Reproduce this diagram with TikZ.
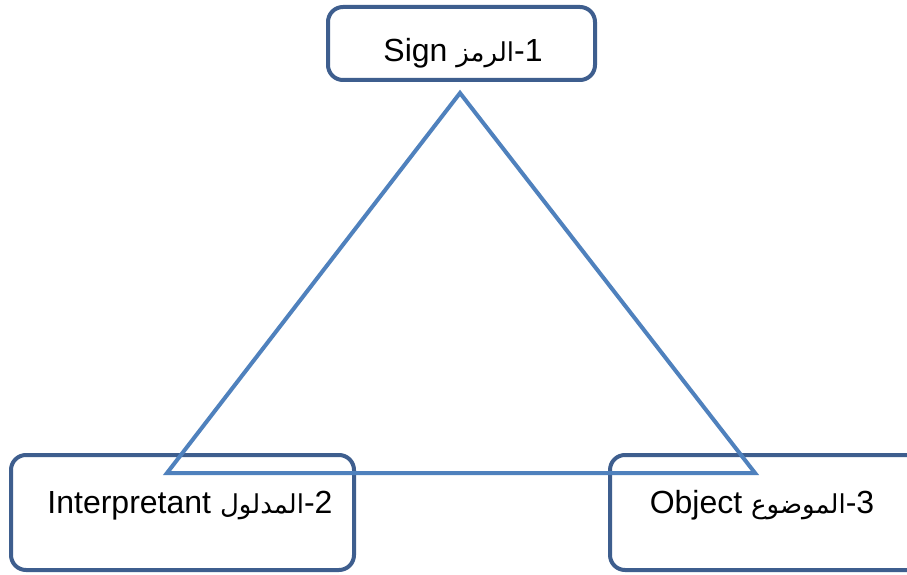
\documentclass[tikz,border=0pt]{standalone}
\usepackage{fontspec}
\setmainfont{Liberation Sans}
\newfontfamily\arabicfont[Script=Arabic]{DejaVu Sans}
\TeXXeTstate=1
\definecolor{boxblue}{HTML}{3E5E8E}
\definecolor{triblue}{HTML}{4F81BD}
\begin{document}
\begin{tikzpicture}[x=1pt,y=-1pt,
  box/.style={draw=boxblue, line width=4pt, rounded corners=15pt, fill=white, inner sep=0pt},
  lbl/.style={font=\fontsize{32}{38}\selectfont, inner sep=0pt, anchor=base},
  arw/.style={},
  tri/.style={draw=triblue, line width=4pt, line join=miter}]
\useasboundingbox (0,0) rectangle (907,575);
\clip (0,0) rectangle (907,575);
\fill[white] (0,0) rectangle (907,575);
\node[box, minimum width=267pt, minimum height=73pt] (signbox) at (461.5,43.5) {};
\node[box, minimum width=343pt, minimum height=115pt] (interpbox) at (182.5,512.5) {};
\node[box, minimum width=340pt, minimum height=115pt] (objbox) at (780,512.5) {};
\coordinate (apex) at (460,93);
\coordinate (bl) at (167,473);
\coordinate (br) at (755,473);
\draw[tri] (apex) -- (bl) -- (br) -- cycle;
\node[lbl] (signtxt) at (463,62) {Sign {\arabicfont\fontsize{26}{30}\selectfont\beginR الرمز\endR}-1};
\node[lbl] (interptxt) at (190,513) {Interpretant {\arabicfont\fontsize{26}{30}\selectfont\beginR المدلول\endR}-2};
\node[lbl] (objtxt) at (762,513) {Object {\arabicfont\fontsize{26}{30}\selectfont\beginR الموضوع\endR}-3};
\end{tikzpicture}
\end{document}
